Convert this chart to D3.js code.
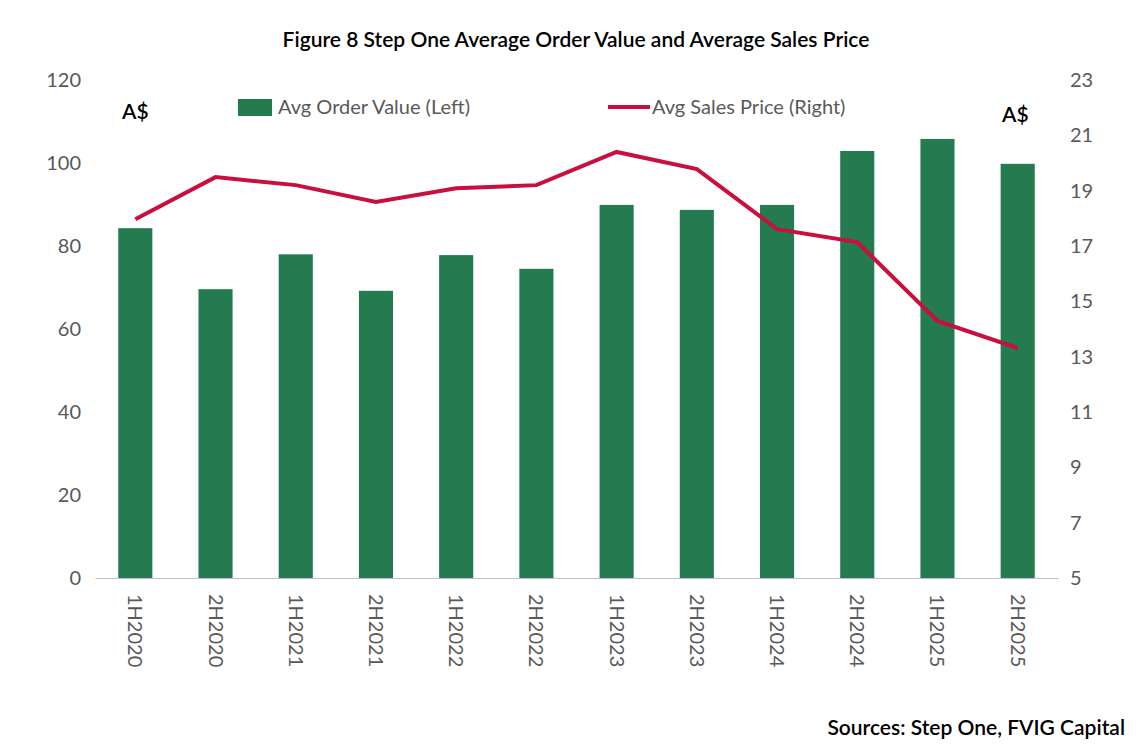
<!DOCTYPE html>
<html><head><meta charset="utf-8">
<script src="https://cdn.jsdelivr.net/npm/d3@7"></script>
<style>body{margin:0;background:#fff}text{font-family:Lato,"Open Sans",sans-serif}</style>
</head><body><svg id="c" width="1142" height="756"></svg>
<script>
const categories = ['1H2020','2H2020','1H2021','2H2021','1H2022','2H2022','1H2023','2H2023','1H2024','2H2024','1H2025','2H2025'];
const orderValue = [84.3, 69.6, 78, 69.2, 77.8, 74.5, 89.9, 88.7, 89.9, 102.9, 105.8, 99.8];
const salesPrice = [17.97, 19.49, 19.2, 18.59, 19.09, 19.2, 20.4, 19.78, 17.61, 17.14, 14.29, 13.31];
const leftTicks = [0, 20, 40, 60, 80, 100, 120];
const rightTicks = [5, 7, 9, 11, 13, 15, 17, 19, 21, 23];

const svg = d3.select('#c');
const m = {l: 95, r: 1058, t: 80, b: 578};
const x = d3.scaleBand().domain(categories).range([m.l, m.r]).paddingInner(0.575).paddingOuter(0.29);
const yL = d3.scaleLinear().domain([0, 120]).range([m.b, m.t]);
const yR = d3.scaleLinear().domain([5, 23]).range([m.b, m.t]);

svg.append('text').attr('x', 576).attr('y', 47).attr('text-anchor', 'middle')
  .style('font-size', '21px').style('font-weight', 600).text('Figure 8 Step One Average Order Value and Average Sales Price');

svg.append('g').selectAll('rect').data(orderValue).join('rect')
  .attr('x', (d, i) => x(categories[i])).attr('width', x.bandwidth())
  .attr('y', d => yL(d)).attr('height', d => yL(0) - yL(d)).attr('fill', '#247b4f');

svg.append('path').datum(salesPrice)
  .attr('d', d3.line().x((d, i) => x(categories[i]) + x.bandwidth() / 2).y(d => yR(d)))
  .attr('fill', 'none').attr('stroke', '#c8103e').attr('stroke-width', 4);

const axL = svg.append('g').attr('transform', `translate(${m.l},0)`).call(d3.axisLeft(yL).tickValues(leftTicks).tickSize(0).tickPadding(14));
const axR = svg.append('g').attr('transform', `translate(${m.r},0)`).call(d3.axisRight(yR).tickValues(rightTicks).tickSize(0).tickPadding(12));
[axL, axR].forEach(a => {
  a.select('.domain').remove();
  a.selectAll('text').style('font-size', '20px').attr('fill', '#595959').style('font-family', 'Lato,sans-serif');
});
const axB = svg.append('g').attr('transform', `translate(0,${m.b})`).call(d3.axisBottom(x).tickSize(0));
axB.select('.domain').attr('stroke', '#bfbfbf');
axB.selectAll('text').attr('transform', 'rotate(90)').attr('x', 16).attr('y', 0).attr('dy', '0.35em')
  .style('text-anchor', 'start').style('font-size', '20px').attr('fill', '#595959').style('font-family', 'Lato,sans-serif');

svg.append('text').attr('x', 122).attr('y', 119).style('font-size', '21px').style('font-weight', 600).text('A$');
svg.append('text').attr('x', 1002).attr('y', 122).style('font-size', '21px').style('font-weight', 600).text('A$');

svg.append('rect').attr('x', 238).attr('y', 99).attr('width', 34).attr('height', 17).attr('fill', '#247b4f');
svg.append('text').attr('x', 278).attr('y', 114).style('font-size', '20px').attr('fill', '#595959').text('Avg Order Value (Left)');
svg.append('line').attr('x1', 608).attr('x2', 650).attr('y1', 107).attr('y2', 107).attr('stroke', '#c8103e').attr('stroke-width', 4);
svg.append('text').attr('x', 652).attr('y', 114).style('font-size', '20px').attr('fill', '#595959').text('Avg Sales Price (Right)');

svg.append('text').attr('x', 1125).attr('y', 735).attr('text-anchor', 'end').style('font-size', '21px').style('font-weight', 600).text('Sources: Step One, FVIG Capital');
</script></body></html>
